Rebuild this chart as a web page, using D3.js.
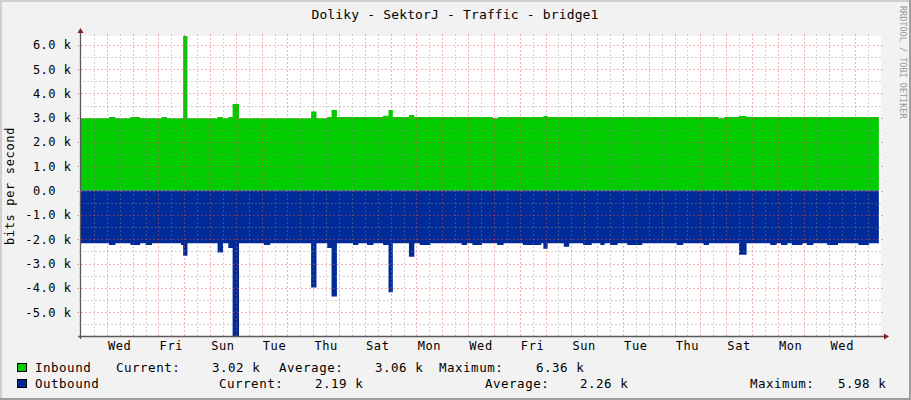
<!DOCTYPE html>
<html><head><meta charset="utf-8">
<script src="https://cdn.jsdelivr.net/npm/d3@7/dist/d3.min.js"></script>
<style>
html,body{margin:0;padding:0;background:#f2f2f2;}
svg{display:block;}
text{font-family:"DejaVu Sans Mono",monospace;fill:#000;}
</style></head><body>
<svg id="chart" width="911" height="400"></svg>
<script>
// ---------- data ----------
const title = "Doliky - SektorJ - Traffic - bridge1";
const yAxisTitle = "bits per second";
const watermark = "RRDTOOL / TOBI OETIKER";
const startTime = Date.UTC(2013, 0, 1);   // a Tuesday, 00:00
const spanHours = 744;                     // 31 days shown

// Inbound: hour offset from start -> bits per second (step series)
const inHours  = [0, 26, 32, 46, 55, 75, 80, 95, 99, 127, 132, 137, 141, 147, 214, 219, 229, 233, 238, 281, 286, 290, 305, 310, 383, 388, 430, 434, 593, 598, 612, 619, 742];
const inValues = [2980, 3030, 2980, 3030, 2980, 3030, 2980, 6360, 2980, 3030, 2980, 3030, 3560, 2980, 3250, 2980, 3030, 3320, 3030, 3080, 3320, 3030, 3110, 3030, 2980, 3030, 3070, 3030, 2980, 3030, 3070, 3030, 3030];

// Outbound: hour offset -> bits per second (drawn below zero)
const outHours  = [0, 26, 32, 46, 55, 60, 66, 93, 95, 99, 127, 132, 137, 141, 147, 170, 176, 214, 219, 229, 233, 238, 253, 258, 266, 272, 281, 286, 290, 305, 310, 315, 325, 354, 359, 364, 373, 387, 393, 411, 428, 430, 434, 449, 454, 467, 475, 483, 487, 492, 499, 508, 522, 554, 560, 579, 584, 612, 619, 641, 647, 651, 657, 661, 671, 675, 681, 694, 704, 723, 733, 742];
const outValues = [2170, 2240, 2170, 2240, 2170, 2240, 2170, 2240, 2680, 2170, 2550, 2170, 2360, 5980, 2170, 2240, 2170, 3990, 2170, 2360, 4360, 2170, 2240, 2170, 2240, 2170, 2240, 4180, 2170, 2720, 2170, 2240, 2170, 2240, 2170, 2240, 2170, 2240, 2170, 2240, 2170, 2390, 2170, 2310, 2170, 2240, 2170, 2240, 2170, 2240, 2170, 2240, 2170, 2240, 2170, 2240, 2170, 2640, 2170, 2240, 2170, 2240, 2170, 2240, 2170, 2240, 2170, 2240, 2170, 2240, 2170, 2190];

const yTickValues = [6000, 5000, 4000, 3000, 2000, 1000, 0, -1000, -2000, -3000, -4000, -5000];
const yTickLabels = ["6.0 k", "5.0 k", "4.0 k", "3.0 k", "2.0 k", "1.0 k", "0.0\u00a0\u00a0", "-1.0 k", "-2.0 k", "-3.0 k", "-4.0 k", "-5.0 k"];
const dayLabelOffsets = [1, 3, 5, 7, 9, 11, 13, 15, 17, 19, 21, 23, 25, 27, 29];
const dayLabels = ["Wed", "Fri", "Sun", "Tue", "Thu", "Sat", "Mon", "Wed", "Fri", "Sun", "Tue", "Thu", "Sat", "Mon", "Wed"];

const seriesNames = ["Inbound", "Outbound"];
const seriesColors = ["#00CC00", "#002A97"];
const statLabels = ["Current:", "Average:", "Maximum:"];
const inStats = ["3.02 k", "3.06 k", "6.36 k"];
const outStats = ["2.19 k", "2.26 k", "5.98 k"];

// ---------- drawing ----------
const svg = d3.select("#chart");
const W = 911, H = 400;
const L = 81, R = 881, T = 36, B = 336;

const hourToDate = h => new Date(startTime + h * 3600e3);
const x = d3.scaleUtc().domain([hourToDate(0), hourToDate(spanHours)]).range([L, R]);
const y = d3.scaleLinear().domain([-5980, 6360]).range([B, T]);

// background and frame
svg.append("rect").attr("x", 0).attr("y", 0).attr("width", W).attr("height", H).attr("fill", "#f2f2f2");
svg.append("rect").attr("x", 0).attr("y", 0).attr("width", W).attr("height", 2).attr("fill", "#cfcfcf");
svg.append("rect").attr("x", 0).attr("y", 0).attr("width", 2).attr("height", H).attr("fill", "#cfcfcf");
svg.append("rect").attr("x", 0).attr("y", H - 2).attr("width", W).attr("height", 2).attr("fill", "#9e9e9e");
svg.append("rect").attr("x", W - 2).attr("y", 0).attr("width", 2).attr("height", H).attr("fill", "#9e9e9e");

// canvas
svg.append("rect").attr("x", L).attr("y", T).attr("width", R - L).attr("height", B - T).attr("fill", "#ffffff");

// areas
const inData = d3.zip(inHours, inValues).map(([h, v]) => ({t: hourToDate(h), v}));
const outData = d3.zip(outHours, outValues).map(([h, v]) => ({t: hourToDate(h), v: -v}));
const area = d3.area().x(d => x(d.t)).y0(y(0)).y1(d => y(d.v)).curve(d3.curveStepAfter);
svg.append("path").datum(inData).attr("d", area).attr("fill", seriesColors[0]);
svg.append("path").datum(outData).attr("d", area).attr("fill", seriesColors[1]);

// grid
const grid = svg.append("g").attr("shape-rendering", "crispEdges");
const minorColor = "rgba(143,143,143,0.4)";
const majorColor = "rgba(222,79,79,0.45)";
const yMinor = d3.range(-5500, 6400, 1000);
grid.selectAll(".hmin").data(yMinor).join("line")
  .attr("x1", L - 2).attr("x2", R + 2)
  .attr("y1", d => Math.round(y(d)) + 0.5).attr("y2", d => Math.round(y(d)) + 0.5)
  .attr("stroke", minorColor).attr("stroke-dasharray", "2,2");
const noons = d3.utcDay.range(hourToDate(0), hourToDate(spanHours)).map(d => d3.utcHour.offset(d, 12));
grid.selectAll(".vmin").data(noons).join("line")
  .attr("x1", d => Math.round(x(d)) + 0.5).attr("x2", d => Math.round(x(d)) + 0.5)
  .attr("y1", T - 2).attr("y2", B)
  .attr("stroke", minorColor).attr("stroke-dasharray", "2,2");
grid.selectAll(".hmaj").data(yTickValues).join("line")
  .attr("x1", L - 4).attr("x2", R + 2)
  .attr("y1", d => Math.round(y(d)) + 0.5).attr("y2", d => Math.round(y(d)) + 0.5)
  .attr("stroke", majorColor).attr("stroke-dasharray", "2,2");
const midnights = d3.utcDay.range(d3.utcHour.offset(hourToDate(0), 1), hourToDate(spanHours));
grid.selectAll(".vmaj").data(midnights).join("line")
  .attr("x1", d => Math.round(x(d)) + 0.5).attr("x2", d => Math.round(x(d)) + 0.5)
  .attr("y1", T - 2).attr("y2", B)
  .attr("stroke", majorColor).attr("stroke-dasharray", "2,2");

// axes
const axisColor = "#5a5a5a", arrowColor = "#801f1f";
svg.append("line").attr("x1", L - 3).attr("x2", R + 3).attr("y1", B + 0.5).attr("y2", B + 0.5)
  .attr("stroke", axisColor).attr("stroke-width", 1.3);
svg.append("line").attr("x1", L - 0.5).attr("x2", L - 0.5).attr("y1", B + 3).attr("y2", T - 4)
  .attr("stroke", axisColor).attr("stroke-width", 1.3);
svg.append("path").attr("d", `M${R + 3},${B - 2.5}L${R + 8},${B + 0.5}L${R + 3},${B + 3.5}Z`).attr("fill", arrowColor);
svg.append("path").attr("d", `M${L - 3.5},${T - 3}L${L - 0.5},${T - 8}L${L + 2.5},${T - 3}Z`).attr("fill", arrowColor);

// y tick labels
svg.append("g").selectAll("text").data(yTickValues).join("text")
  .attr("x", 71.5).attr("y", d => y(d) + 4.5)
  .attr("text-anchor", "end")
  .style("font-size", "12px").style("letter-spacing", "0.5px")
  .text((d, i) => yTickLabels[i]);

// x labels
svg.append("g").selectAll("text").data(dayLabelOffsets).join("text")
  .attr("x", d => x(d3.utcHour.offset(d3.utcDay.offset(hourToDate(0), d), 12)))
  .attr("y", 350)
  .attr("text-anchor", "middle")
  .style("font-size", "12px").style("letter-spacing", "0.6px")
  .text((d, i) => dayLabels[i]);

// title
svg.append("text").attr("x", 455).attr("y", 19).attr("text-anchor", "middle")
  .style("font-size", "13px").style("letter-spacing", "0.15px").text(title);

// y axis title
svg.append("text").attr("transform", "translate(13.5,186) rotate(-90)").attr("text-anchor", "middle")
  .style("font-size", "12px").style("letter-spacing", "0.65px").text(yAxisTitle);

// watermark
svg.append("text").attr("transform", "translate(900,6) rotate(90)").attr("text-anchor", "start")
  .style("font-size", "8.5px").style("fill", "#999999").text(watermark);

// legend
const legendRows = [
  {name: seriesNames[0], color: seriesColors[0], stats: inStats, base: 372,
   pos: [35, 116, 212, 279, 375, 439, 536]},
  {name: seriesNames[1], color: seriesColors[1], stats: outStats, base: 388,
   pos: [35, 219, 315, 485, 580, 750, 838]}
];
const lg = svg.append("g");
legendRows.forEach(r => {
  lg.append("rect").attr("x", 17.5).attr("y", r.base - 8.5).attr("width", 9).attr("height", 8)
    .attr("fill", r.color).attr("stroke", "#000").attr("stroke-width", 1);
  const items = [r.name, statLabels[0], r.stats[0], statLabels[1], r.stats[1], statLabels[2], r.stats[2]];
  items.forEach((t, i) => {
    lg.append("text").attr("x", r.pos[i]).attr("y", r.base)
      .style("font-size", "12.5px").style("letter-spacing", "0.5px").text(t);
  });
});
</script>
</body></html>
